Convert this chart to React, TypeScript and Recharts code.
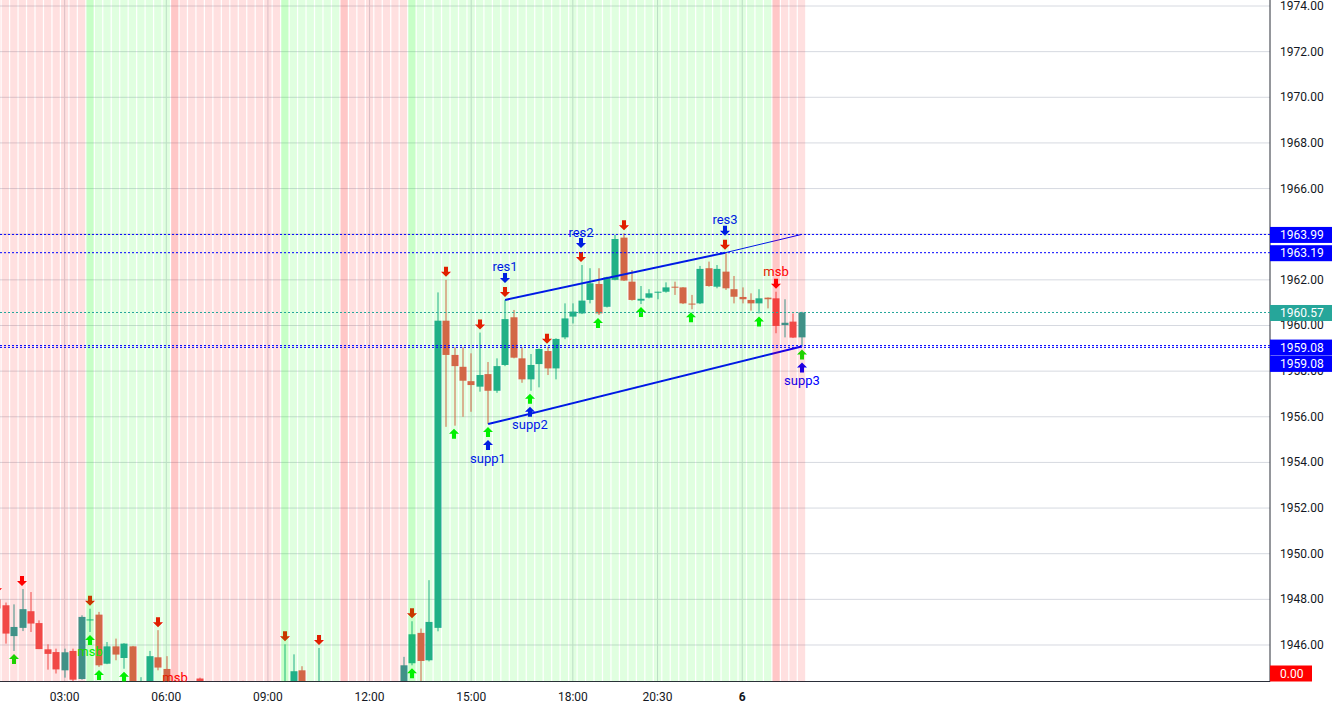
import React from 'react'
import {
  Bar,
  CartesianGrid,
  ComposedChart,
  ReferenceArea,
  ReferenceLine,
  Scatter,
  XAxis,
  YAxis,
} from 'recharts'

// page has an 8px default margin, the chart fills the whole window
if (typeof document !== 'undefined') document.body.style.margin = '0'

// 15 minute candles, index -1 is the one cut by the left edge
const FIRST_INDEX = -1

const OPEN = [
  1948.0, 1947.74, 1946.39, 1946.75, 1947.48, 1946.96, 1945.81, 1945.69, 1944.89, 1945.74,
  1944.51, 1947.1, 1947.33, 1945.18, 1945.94, 1945.43, 1945.94, 1944.2, 1944.0, 1945.46,
  1944.95, 1943.6, 1943.1, 1942.9, 1944.53, 1943.7, 1943.9, 1943.6, 1943.3, 1944.4,
  1943.8, 1944.0, 1943.7, 1943.5, 1943.8, 1944.0, 1944.89, 1944.1, 1943.8, 1944.2,
  1943.6, 1943.3, 1943.0, 1942.9, 1943.1, 1943.2, 1943.0, 1943.5, 1943.9, 1945.2,
  1946.53, 1945.33, 1946.75, 1960.21, 1958.71, 1958.19, 1957.56, 1957.32, 1957.87, 1957.14,
  1958.27, 1960.36, 1958.56, 1957.64, 1958.31, 1958.88, 1958.12, 1959.48, 1960.39, 1960.53,
  1961.12, 1961.82, 1960.82, 1962.0, 1963.85, 1961.92, 1961.09, 1961.22, 1961.44, 1961.48,
  1961.7, 1961.67, 1960.96, 1960.97, 1962.51, 1961.7, 1962.36, 1961.59, 1961.25, 1961.12,
  1960.97, 1961.22, 1961.19, 1960.02, 1960.17, 1959.48,
]
const HIGH = [
  1948.14, 1947.86, 1947.78, 1948.45, 1948.32, 1947.08, 1946.03, 1945.84, 1945.84, 1945.84,
  1947.3, 1947.59, 1947.45, 1946.13, 1946.28, 1946.08, 1945.96, 1944.59, 1945.74, 1946.65,
  1945.51, 1943.71, 1943.5, 1944.2, 1944.57, 1944.1, 1944.2, 1944.0, 1944.1, 1944.43,
  1944.2, 1944.25, 1944.1, 1944.0, 1946.03, 1945.59, 1945.07, 1944.3, 1945.87, 1944.3,
  1944.0, 1943.6, 1943.4, 1943.3, 1943.5, 1943.6, 1943.7, 1944.1, 1945.48, 1947.04,
  1946.72, 1948.84, 1961.45, 1962.0, 1959.04, 1959.04, 1958.78, 1959.69, 1958.4, 1958.56,
  1961.12, 1960.68, 1959.04, 1958.75, 1958.99, 1959.07, 1959.44, 1960.97, 1960.97, 1962.65,
  1962.51, 1962.51, 1962.14, 1963.97, 1964.04, 1962.43, 1961.73, 1961.59, 1961.48, 1961.89,
  1961.92, 1961.68, 1961.34, 1962.61, 1962.8, 1962.65, 1963.19, 1962.17, 1961.67, 1961.41,
  1961.59, 1961.23, 1961.48, 1961.15, 1960.53, 1960.6,
]
const LOW = [
  1947.4, 1946.06, 1945.74, 1946.61, 1946.57, 1945.82, 1944.92, 1944.75, 1944.57, 1944.42,
  1944.48, 1946.57, 1945.04, 1945.16, 1945.33, 1944.96, 1943.8, 1944.0, 1943.9, 1944.89,
  1943.8, 1942.9, 1942.6, 1942.7, 1943.4, 1943.2, 1943.5, 1943.1, 1943.0, 1943.6,
  1943.4, 1943.5, 1943.3, 1943.2, 1943.6, 1943.8, 1943.9, 1943.5, 1943.6, 1943.4,
  1943.1, 1942.8, 1942.6, 1942.5, 1942.8, 1942.9, 1942.8, 1943.2, 1943.8, 1945.11,
  1944.0, 1945.28, 1946.6, 1955.56, 1955.61, 1956.0, 1956.22, 1957.1, 1955.68, 1957.05,
  1958.22, 1958.56, 1957.49, 1957.14, 1957.29, 1957.83, 1957.64, 1959.4, 1960.09, 1960.5,
  1960.97, 1960.46, 1960.79, 1961.98, 1961.95, 1961.09, 1960.94, 1961.19, 1961.15, 1961.44,
  1961.34, 1960.94, 1960.71, 1960.94, 1961.7, 1961.63, 1961.56, 1960.97, 1960.97, 1960.65,
  1960.53, 1960.75, 1959.66, 1959.48, 1959.45, 1959.08,
]
const CLOSE = [
  1947.6, 1946.5, 1946.79, 1947.57, 1946.94, 1945.82, 1945.61, 1944.93, 1945.68, 1944.48,
  1947.23, 1947.12, 1945.11, 1945.94, 1945.58, 1946.06, 1944.0, 1944.42, 1945.51, 1945.01,
  1944.0, 1943.1, 1942.9, 1944.1, 1943.7, 1943.9, 1943.6, 1943.3, 1943.9, 1943.8,
  1944.0, 1943.7, 1943.5, 1943.8, 1944.2, 1944.85, 1944.1, 1943.8, 1944.2, 1943.6,
  1943.3, 1943.0, 1942.9, 1943.1, 1943.2, 1943.0, 1943.5, 1943.9, 1945.11, 1946.47,
  1945.3, 1947.01, 1960.21, 1958.71, 1958.22, 1957.58, 1957.39, 1957.83, 1957.14, 1958.22,
  1960.28, 1958.59, 1957.64, 1958.27, 1958.97, 1958.12, 1959.41, 1960.31, 1960.61, 1961.09,
  1961.85, 1960.53, 1962.11, 1963.79, 1961.97, 1961.12, 1961.17, 1961.41, 1961.48, 1961.67,
  1961.67, 1960.97, 1960.94, 1962.48, 1961.73, 1962.48, 1961.63, 1961.26, 1961.15, 1960.97,
  1961.19, 1961.15, 1959.98, 1960.12, 1959.47, 1960.57,
]

// time axis
const TICK_INDEX = [7, 19, 31, 43, 55, 67, 77, 87]
const TICK_TEXT = ['03:00', '06:00', '09:00', '12:00', '15:00', '18:00', '20:30', '6']
const PRICE_TICKS = [1946, 1948, 1950, 1952, 1954, 1956, 1958, 1960, 1962, 1964, 1966, 1968, 1970, 1972, 1974]

// market structure zones (msb = market structure break)
const ZONE_START = [10, 20, 33, 40, 48, 91]
const ZONE_TREND = ['up', 'down', 'up', 'down', 'up', 'down']

const SELL_MARKS = [-1, 2, 10, 18, 20, 33, 37, 48, 52, 56, 59, 64, 68, 73, 85, 91]
const BUY_MARKS = [1, 10, 11, 14, 48, 53, 57, 62, 70, 75, 81, 89, 94]
const RES_POINTS = [59, 68, 85]
const RES_TEXT = ['res1', 'res2', 'res3']
const SUPP_POINTS = [57, 62, 94]
const SUPP_TEXT = ['supp1', 'supp2', 'supp3']
const MSB_UP = [10]
const MSB_DOWN = [20, 91]

// channel lines
const RES_LINE = [
  { x: 59, y: 1961.12 },
  { x: 85, y: 1963.19 },
]
const RES_EXT = [
  { x: 85, y: 1963.19 },
  { x: 94, y: 1963.99 },
]
const SUPP_LINE = [
  { x: 57, y: 1955.68 },
  { x: 94, y: 1959.08 },
]

// price levels on the right scale
const LEVEL_VALUE = [1963.99, 1963.19, 1960.57, 1959.12, 1959.04]
const LEVEL_TEXT = ['1963.99', '1963.19', '1960.57', '1959.08', '1959.08']
const LEVEL_KIND = ['blue', 'blue', 'last', 'blue', 'blue']
const INDICATOR_TEXT = '0.00'

const X_MIN = -0.632
const X_MAX = 149.31
const Y_MIN = 1944.4
const Y_MAX = 1974.263

const UP = '#26a69a'
const DOWN = '#ef5350'
const BLUE = '#0000ff'
const FONT = 'Roboto, "Liberation Sans", sans-serif'

const candles = OPEN.map((open, k) => ({
  i: k + FIRST_INDEX,
  open,
  high: HIGH[k],
  low: LOW[k],
  close: CLOSE[k],
}))
const byIndex = (i: number) => candles[i - FIRST_INDEX]

function zoneOf(i: number) {
  let trend = 'down'
  let start = false
  ZONE_START.forEach((s, k) => {
    if (i >= s) {
      trend = ZONE_TREND[k]
      start = i === s
    }
  })
  return { trend, start }
}

const marks = [
  ...SELL_MARKS.map((i) => ({
    i,
    v: byIndex(i).high,
    side: 'top',
    tag: RES_POINTS.includes(i) ? RES_TEXT[RES_POINTS.indexOf(i)] : '',
    msb: MSB_DOWN.includes(i),
  })),
  ...BUY_MARKS.map((i) => ({
    i,
    v: byIndex(i).low,
    side: 'bottom',
    tag: SUPP_POINTS.includes(i) ? SUPP_TEXT[SUPP_POINTS.indexOf(i)] : '',
    msb: MSB_UP.includes(i),
  })),
]

// price labels drawn last so the tags sit over the plain tick labels
const AXIS_TICKS = [...PRICE_TICKS, Y_MIN, ...LEVEL_VALUE]

function Candle(props: any) {
  const { x, y, width, height, payload } = props
  const top = Math.min(y, y + height)
  const bottom = Math.max(y, y + height)
  const ppu = (bottom - top) / (payload.high - payload.low)
  const py = (p: number) => top + (payload.high - p) * ppu
  const cx = Math.round(x + width / 2)
  const color = payload.close >= payload.open ? UP : DOWN
  const bTop = py(Math.max(payload.open, payload.close))
  const bBot = py(Math.min(payload.open, payload.close))
  return (
    <g>
      <rect x={cx - 0.5} y={top} width={1} height={bottom - top} fill={color} />
      <rect x={cx - 3.5} y={bTop} width={7} height={Math.max(1, bBot - bTop)} fill={color} />
    </g>
  )
}

const downArrow = (cx: number, tip: number) =>
  `M${cx - 2},${tip - 10} L${cx + 2},${tip - 10} L${cx + 2},${tip - 5} L${cx + 5},${tip - 5} L${cx},${tip} L${cx - 5},${tip - 5} L${cx - 2},${tip - 5} Z`
const upArrow = (cx: number, tip: number) =>
  `M${cx},${tip} L${cx + 5},${tip + 5} L${cx + 2},${tip + 5} L${cx + 2},${tip + 10} L${cx - 2},${tip + 10} L${cx - 2},${tip + 5} L${cx - 5},${tip + 5} Z`

function Mark(props: any) {
  const { cx, cy, payload } = props
  if (cx == null || cy == null) return <g />
  const x = Math.round(cx)
  if (payload.side === 'top') {
    return (
      <g>
        <path d={downArrow(x, cy - 3)} fill="#ff0000" />
        {payload.tag && <path d={downArrow(x, cy - 17)} fill={BLUE} />}
        {payload.tag && (
          <text x={x} y={cy - 33} textAnchor="middle" dominantBaseline="central" fontSize={13} fill={BLUE} fontFamily={FONT}>
            {payload.tag}
          </text>
        )}
        {payload.msb && (
          <text x={x} y={cy - 20} textAnchor="middle" dominantBaseline="central" fontSize={13} fill="#ff0000" fontFamily={FONT}>
            msb
          </text>
        )}
      </g>
    )
  }
  return (
    <g>
      <path d={upArrow(x, cy + 3)} fill="#00ee00" />
      {payload.tag && <path d={upArrow(x, cy + 16)} fill={BLUE} />}
      {payload.tag && (
        <text x={x} y={cy + 34} textAnchor="middle" dominantBaseline="central" fontSize={13} fill={BLUE} fontFamily={FONT}>
          {payload.tag}
        </text>
      )}
      {payload.msb && (
        <text x={x} y={cy + 20} textAnchor="middle" dominantBaseline="central" fontSize={13} fill="#00ee00" fontFamily={FONT}>
          msb
        </text>
      )}
    </g>
  )
}

function TimeTick(props: any) {
  const { x, y, payload } = props
  const t = TICK_TEXT[TICK_INDEX.indexOf(payload.value)]
  return (
    <text x={x} y={y} dy={11.5} textAnchor="middle" fontSize={12} fill="#131722" fontFamily={FONT} fontWeight={t === '6' ? 700 : 400}>
      {t}
    </text>
  )
}

function PriceTick(props: any) {
  const { x, y, payload } = props
  const v = payload.value
  const k = LEVEL_VALUE.indexOf(v)
  const left = x - 10
  if (k >= 0) {
    const bg = LEVEL_KIND[k] === 'last' ? UP : BLUE
    const cy = y + (k === 3 ? 2 : k === 4 ? 16.5 : 0.5)
    return (
      <g>
        <rect x={left} y={cy - 8} width={62} height={16} fill={bg} />
        <text x={x} y={cy} dominantBaseline="central" fontSize={12} fill="#ffffff" fontFamily={FONT}>
          {LEVEL_TEXT[k]}
        </text>
      </g>
    )
  }
  if (v === Y_MIN) {
    return (
      <g>
        <rect x={left} y={y - 16} width={42} height={16} fill="#ff0000" />
        <text x={x} y={y - 8} dominantBaseline="central" fontSize={12} fill="#ffffff" fontFamily={FONT}>
          {INDICATOR_TEXT}
        </text>
      </g>
    )
  }
  return (
    <text x={x} y={y} dominantBaseline="central" fontSize={12} fill="#131722" fontFamily={FONT}>
      {v.toFixed(2)}
    </text>
  )
}

export default function App() {
  return (
    <div style={{ width: 1338, height: 710, background: '#ffffff', fontFamily: FONT }}>
      <ComposedChart width={1338} height={710} data={candles} margin={{ top: 0, right: 0, bottom: 0, left: 0 }}>
        <XAxis
          dataKey="i"
          type="number"
          domain={[X_MIN, X_MAX]}
          allowDataOverflow
          ticks={TICK_INDEX}
          interval={0}
          tick={<TimeTick />}
          tickLine={false}
          axisLine={{ stroke: '#2a2e39' }}
          height={28.5}
        />
        <YAxis
          orientation="right"
          type="number"
          domain={[Y_MIN, Y_MAX]}
          allowDataOverflow
          ticks={AXIS_TICKS}
          interval={0}
          tick={<PriceTick />}
          tickLine={false}
          tickSize={8}
          tickMargin={2}
          axisLine={{ stroke: '#2a2e39' }}
          width={68}
        />
        <CartesianGrid stroke="#d6d9e0" horizontalValues={PRICE_TICKS} verticalValues={TICK_INDEX} />
        <Bar dataKey={(d: any) => [d.low, d.high]} barSize={7} shape={<Candle />} isAnimationActive={false} />
        <ReferenceLine segment={RES_LINE} stroke={BLUE} strokeWidth={2} zIndex={650} />
        <ReferenceLine segment={RES_EXT} stroke={BLUE} strokeWidth={1} zIndex={650} />
        <ReferenceLine segment={SUPP_LINE} stroke={BLUE} strokeWidth={2} zIndex={650} />
        <Scatter data={marks} dataKey="v" shape={<Mark />} isAnimationActive={false} />
        {candles.map((c) => {
          const z = zoneOf(c.i)
          return (
            <ReferenceArea
              key={c.i}
              x1={c.i - 0.43}
              x2={c.i + 0.43}
              fill={z.trend === 'up' ? 'rgb(0,255,0)' : 'rgb(255,0,0)'}
              fillOpacity={z.start ? 0.22 : 0.12}
              stroke="none"
              ifOverflow="hidden"
              isFront
              zIndex={700}
            />
          )
        })}
        {LEVEL_VALUE.map((v, k) => (
          <ReferenceLine
            key={k}
            y={v}
            stroke={LEVEL_KIND[k] === 'last' ? UP : BLUE}
            strokeDasharray="2 2"
            zIndex={800}
          />
        ))}
      </ComposedChart>
    </div>
  )
}
